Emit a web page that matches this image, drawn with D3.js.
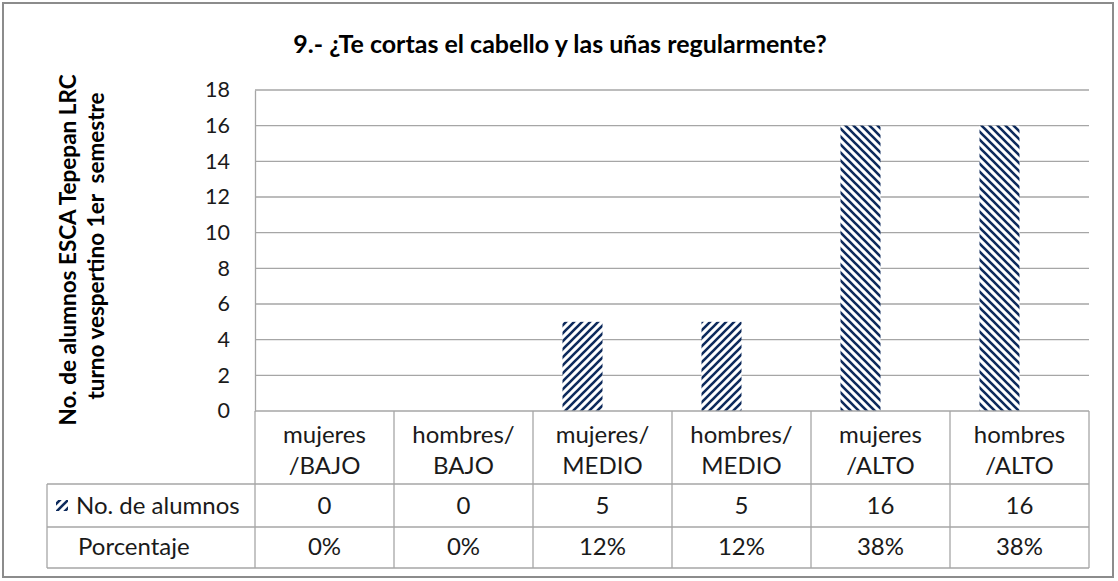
<!DOCTYPE html>
<html><head><meta charset="utf-8">
<script src="https://cdn.jsdelivr.net/npm/d3@7"></script>
<style>body{margin:0;background:#fff}</style>
</head><body>
<script>
const categoriesTop = ["mujeres","hombres/","mujeres/","hombres/","mujeres","hombres"];
const categoriesBottom = ["/BAJO","BAJO","MEDIO","MEDIO","/ALTO","/ALTO"];
const alumnos = [0,0,5,5,16,16];
const porcentaje = ["0%","0%","12%","12%","38%","38%"];
const yTicks = [0,2,4,6,8,10,12,14,16,18];
const stripeDir = ["/","/","/","/","\\","\\"];

const W=1118,H=581;
const svg=d3.select("body").append("svg").attr("width",W).attr("height",H);
const font="Lato, 'Open Sans', sans-serif";
const navy="#0d2a5c", grid="#a6a6a6";

const defs=svg.append("defs");
function pat(id,dir){
  const p=defs.append("pattern").attr("id",id).attr("patternUnits","userSpaceOnUse")
   .attr("width",8).attr("height",8);
  p.append("rect").attr("width",8).attr("height",8).attr("fill","#fff");
  const d = dir==="/" ? "M-2,2 L2,-2 M0,8 L8,0 M6,10 L10,6" : "M-2,6 L2,10 M0,0 L8,8 M6,-2 L10,2";
  p.append("path").attr("d",d).attr("stroke",navy).attr("stroke-width",2.6);
}
pat("p1","/"); pat("p2","\\");

// outer frame
svg.append("rect").attr("x",3).attr("y",3).attr("width",1110).attr("height",574)
  .attr("fill","#fff").attr("stroke","#8c8c8c").attr("stroke-width",2);

const x0=255,x1=1089,yT=90,yB=411;
const x=d3.scaleBand().domain(d3.range(6)).range([x0,x1]).paddingInner(0).paddingOuter(0);
const y=d3.scaleLinear().domain([0,18]).range([yB,yT]);

// gridlines
svg.append("g").selectAll("line").data(yTicks.filter(t=>t>0)).join("line")
  .attr("x1",x0).attr("x2",x1).attr("y1",d=>y(d)).attr("y2",d=>y(d))
  .attr("stroke",grid).attr("stroke-width",1.3);
// y axis
const ya=svg.append("g").attr("transform",`translate(${x0},0)`)
  .call(d3.axisLeft(y).tickValues(yTicks).tickSize(0).tickPadding(25));
ya.select(".domain").attr("stroke",grid).attr("stroke-width",1.3);
ya.selectAll("text").attr("font-family",font).attr("font-size",21.5).attr("fill","#1a1a1a");

// bars
const bw=40;
svg.append("g").selectAll("rect").data(alumnos).join("rect")
  .attr("x",(d,i)=>x(i)+x.bandwidth()/2-bw).attr("width",bw)
  .attr("y",d=>y(d)).attr("height",d=>yB-y(d))
  .attr("fill",(d,i)=>stripeDir[i]==="/"?"url(#p1)":"url(#p2)");

// table
const tl=47, r1=484, r2=527, r3=568;
const tg=svg.append("g").attr("stroke",grid).attr("stroke-width",1.3).attr("fill","none");
tg.append("line").attr("x1",x0).attr("x2",x1).attr("y1",yB).attr("y2",yB);
[r1,r2,r3].forEach(r=>tg.append("line").attr("x1",tl).attr("x2",x1).attr("y1",r).attr("y2",r));
d3.range(7).forEach(i=>{
  const xx = i<6? x(i): x1;
  tg.append("line").attr("x1",xx).attr("x2",xx).attr("y1",yB).attr("y2",r3);
});
tg.append("line").attr("x1",tl).attr("x2",tl).attr("y1",r1).attr("y2",r3);

const fs=24;
const cx=i=>x(i)+x.bandwidth()/2;
const tx=svg.append("g").attr("font-family",font).attr("font-size",fs).attr("fill","#1a1a1a").attr("text-anchor","middle");
categoriesTop.forEach((c,i)=>tx.append("text").attr("x",cx(i)).attr("y",443).text(c));
categoriesBottom.forEach((c,i)=>tx.append("text").attr("x",cx(i)).attr("y",474).text(c));
alumnos.forEach((v,i)=>tx.append("text").attr("x",cx(i)).attr("y",514).text(v));
porcentaje.forEach((v,i)=>tx.append("text").attr("x",cx(i)).attr("y",555).text(v));

// legend cells
svg.append("rect").attr("x",56).attr("y",500).attr("width",12).attr("height",11).attr("fill","url(#p1)");
svg.append("text").attr("x",76).attr("y",514).attr("font-family",font).attr("font-size",fs).attr("fill","#1a1a1a").text("No. de alumnos");
svg.append("text").attr("x",78).attr("y",555).attr("font-family",font).attr("font-size",fs).attr("fill","#1a1a1a").text("Porcentaje");

// title
svg.append("text").attr("x",560).attr("y",53).attr("text-anchor","middle")
  .attr("font-family",font).attr("font-weight","bold").attr("font-size",25).attr("fill","#000")
  .text("9.- ¿Te cortas el cabello y las uñas regularmente?");

// y axis title
svg.append("text").attr("transform","translate(76,250) rotate(-90)").attr("text-anchor","middle")
  .attr("font-family",font).attr("font-weight","bold").attr("font-size",22.5).attr("fill","#000")
  .text("No. de alumnos ESCA Tepepan LRC");
svg.append("text").attr("transform","translate(104,246) rotate(-90)").attr("text-anchor","middle")
  .attr("font-family",font).attr("font-weight","bold").attr("font-size",22.5).attr("fill","#000")
  .style("white-space","pre")
  .text("turno vespertino 1er  semestre");
</script>
</body></html>
